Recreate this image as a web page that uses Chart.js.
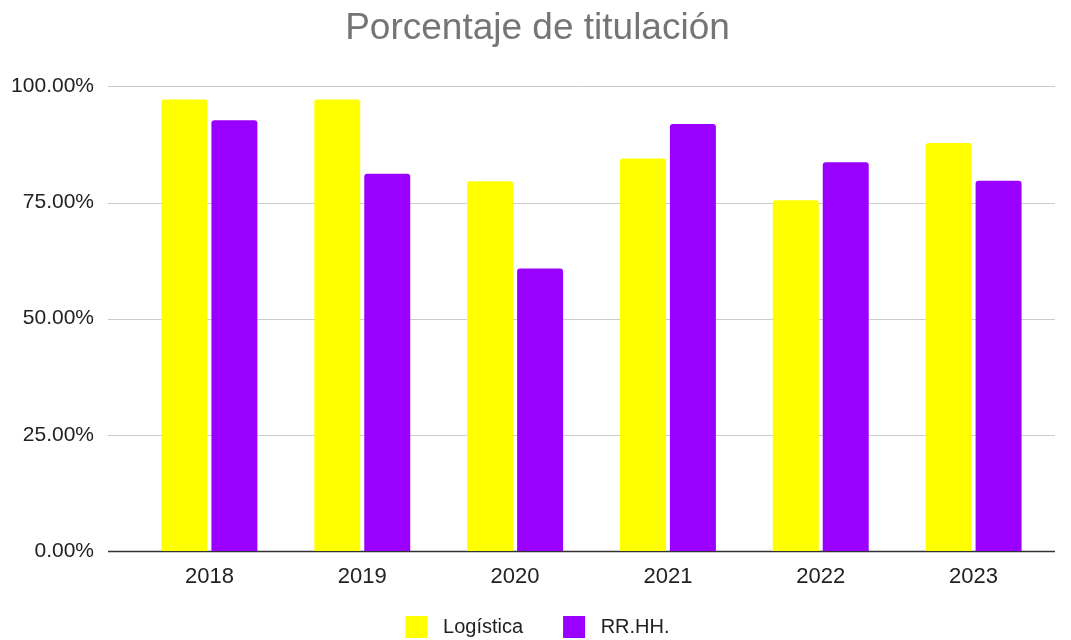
<!DOCTYPE html>
<html>
<head>
<meta charset="utf-8">
<script src="https://cdn.jsdelivr.net/npm/chart.js@4.4.1/dist/chart.umd.min.js"></script>
<style>
  html, body { margin: 0; padding: 0; background: #fff; }
  #wrap { width: 1071px; height: 640px; }
</style>
</head>
<body>
<div id="wrap"><canvas id="titulacionChart"></canvas></div>
<script>
const years = ["2018", "2019", "2020", "2021", "2022", "2023"];
const logistica = [97.2, 97.2, 79.6, 84.5, 75.5, 87.8];
const rrhh = [92.7, 81.2, 60.8, 91.9, 83.7, 79.7];
const yTicks = [0, 25, 50, 75, 100];

Chart.defaults.font.family = "'Liberation Sans', Arial, sans-serif";

// horizontal grid lines that run a bit past the plot area, like the sheets export
const wideGrid = {
    id: "wideGrid",
    beforeDatasetsDraw(chart) {
        const { ctx, chartArea, scales } = chart;
        const x0 = chartArea.left - 25;
        const x1 = chartArea.right + 5;
        ctx.save();
        yTicks.forEach(v => {
            const py = Math.round(scales.y.getPixelForValue(v));
            ctx.beginPath();
            ctx.strokeStyle = v === 0 ? "#333333" : "#cccccc";
            ctx.lineWidth = v === 0 ? 1.5 : 1;
            ctx.moveTo(x0, py + 0.5);
            ctx.lineTo(x1, py + 0.5);
            ctx.stroke();
        });
        ctx.restore();
    }
};

// axis boxes are kept tight for the layout, so widen them afterwards
// to stop the tick labels from being clipped
const unclipLabels = {
    id: "unclipLabels",
    afterLayout(chart) {
        chart.scales.y.left = 0;
        chart.scales.x.bottom = chart.scales.x.top + 45;
    }
};

const ctx = document.getElementById("titulacionChart").getContext("2d");

new Chart(ctx, {
    type: "bar",
    data: {
        labels: years,
        datasets: [{
            label: "Logística",
            data: logistica,
            backgroundColor: "#ffff00",
            borderRadius: 3,
            categoryPercentage: 0.654,
            barPercentage: 0.92
        }, {
            label: "RR.HH.",
            data: rrhh,
            backgroundColor: "#9900ff",
            borderRadius: 3,
            categoryPercentage: 0.654,
            barPercentage: 0.92
        }]
    },
    plugins: [wideGrid, unclipLabels],
    options: {
        responsive: true,
        maintainAspectRatio: false,
        animation: false,
        layout: { padding: { left: 25, right: 21, top: 0, bottom: -8 } },
        plugins: {
            title: {
                display: true,
                text: "Porcentaje de titulación",
                color: "#757575",
                font: { size: 37, weight: "normal" },
                padding: { top: 7, bottom: 35 }
            },
            legend: {
                position: "bottom",
                labels: {
                    color: "#222",
                    font: { size: 20 },
                    boxWidth: 22,
                    boxHeight: 22,
                    padding: 40,
                    // a bit more room between the colour box and the text
                    generateLabels: chart => Chart.defaults.plugins.legend.labels.generateLabels(chart)
                        .map(item => Object.assign(item, { text: " " + item.text }))
                }
            },
            tooltip: { enabled: false }
        },
        scales: {
            x: {
                grid: { display: false, drawTicks: false },
                border: { display: false },
                ticks: { color: "#222", font: { size: 22 }, padding: 13 },
                afterFit: axis => { axis.height = 25; }
            },
            y: {
                min: 0,
                max: 100,
                afterBuildTicks: axis => { axis.ticks = yTicks.map(v => ({ value: v })); },
                afterFit: axis => { axis.width = 108; },
                border: { display: false },
                grid: { display: false, drawTicks: false },
                ticks: {
                    color: "#222",
                    font: { size: 21 },
                    padding: 39,
                    callback: v => v.toFixed(2) + "%"
                }
            }
        }
    }
});
</script>
</body>
</html>
